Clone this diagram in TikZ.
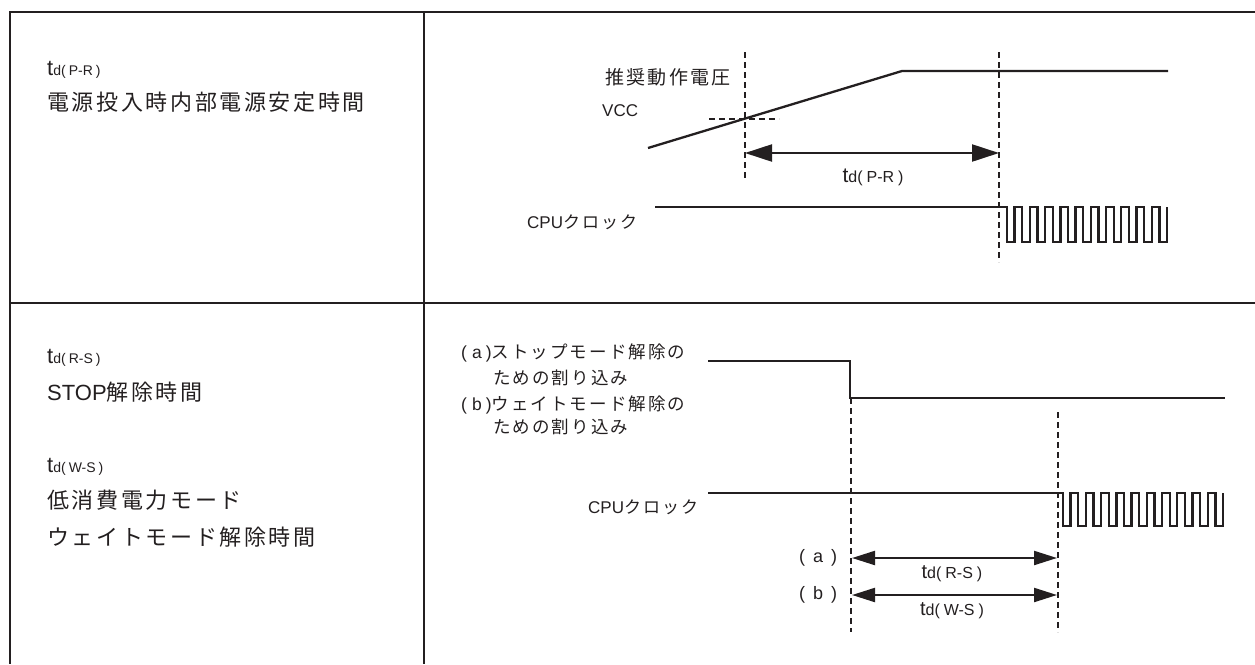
\documentclass[tikz,border=0pt]{standalone}
\usepackage{fontspec}
\setmainfont{Liberation Sans}
\newfontfamily\jp[LetterSpace=12]{Noto Sans CJK JP}
\usetikzlibrary{arrows.meta}
\definecolor{ink}{HTML}{231F20}
\newcommand{\tdlab}[4]{{\fontsize{#1}{#1}\selectfont t}{\fontsize{#2}{#2}\selectfont d(\hspace{#4}#3\hspace{#4})}}
\newcommand{\fs}[1]{\fontsize{#1}{#1}\selectfont}
\begin{document}
\begin{tikzpicture}[x=1pt,y=-1pt,
  frame/.style={line width=2.3pt, draw=ink},
  sig/.style={line width=2.3pt, draw=ink, line join=miter},
  guide/.style={line width=1.3pt, draw=ink, dash pattern=on 6pt off 4pt},
  dimbig/.style={line width=2.2pt, draw=ink, {Triangle[length=27pt,width=17pt]}-{Triangle[length=27pt,width=17pt]}},
  dimsmall/.style={line width=2.2pt, draw=ink, {Triangle[length=23pt,width=14pt]}-{Triangle[length=23pt,width=14pt]}},
  lbl/.style={inner sep=0pt, text=ink},
]
\useasboundingbox (0,0) rectangle (1255,664);
% frame
\draw[frame] (1255,12) -- (10,12) -- (10,664);
\draw[frame] (424,12) -- (424,664);
\draw[frame] (10,303) -- (1255,303);

% left panel texts
\node[lbl,anchor=west] (l1) at (47,70) {\tdlab{22}{14}{P-R}{3pt}};
\node[lbl,anchor=west] (l2) at (47,102) {\fs{22}\jp 電源投入時内部電源安定時間};
\node[lbl,anchor=west] (l3) at (47,358) {\tdlab{22}{14}{R-S}{3pt}};
\node[lbl,anchor=west] (l4) at (47,392) {\fs{22}STOP\jp 解除時間};
\node[lbl,anchor=west] (l5) at (47,467) {\tdlab{22}{14}{W-S}{3pt}};
\node[lbl,anchor=west] (l6) at (47,500) {\fs{22}\jp 低消費電力モード};
\node[lbl,anchor=west] (l7) at (47,537) {\fs{22}\jp ウェイトモード解除時間};

% ---- top right: VCC
\node[lbl,anchor=west] (rec) at (605,77) {\fs{19}\jp 推奨動作電圧};
\node[lbl,anchor=west] (vcc) at (602,111) {\fs{17}VCC};
\coordinate (v0) at (648,148);
\coordinate (v1) at (902,71);
\coordinate (v2) at (1168,71);
\draw[sig] (v0) -- (v1) -- (v2);
\coordinate (g1t) at (745,52);
\coordinate (g1b) at (745,178);
\coordinate (g2t) at (999,52);
\coordinate (g2b) at (999,262);
\draw[guide] (g1t) -- (g1b);
\draw[guide] (g2t) -- (g2b);
\coordinate (hl) at (709,119);
\coordinate (hr) at (779,119);
\draw[guide] (hl) -- (hr);
\coordinate (a1l) at (745,153);
\coordinate (a1r) at (999,153);
\draw[dimbig] (a1l) -- (a1r);
\node[lbl] (tpr) at (873,177) {\tdlab{21}{16}{P-R}{4pt}};
% top clock
\node[lbl,anchor=west] (cpu1) at (527,222) {\fs{17}CPU\jp クロック};
\coordinate (c1s) at (655,207);
\coordinate (c1f) at (1007,207);
\draw[sig] (c1s) -- (c1f) -- ++(0,35)
  \foreach \i in {1,...,10}{ -- ++(7.62,0) -- ++(0,-35) -- ++(7.62,0) -- ++(0,35)}
  -- ++(7.62,0) -- ++(0,-35);

% ---- bottom right
\node[lbl,anchor=west] (ia1) at (461,353) {\fs{17.5}(\hspace{5pt}a\hspace{4pt})\jp ストップモード解除の};
\node[lbl,anchor=west] (ia2) at (493,378) {\fs{17.5}\jp ための割り込み};
\node[lbl,anchor=west] (ib1) at (461,405) {\fs{17.5}(\hspace{5pt}b\hspace{4pt})\jp ウェイトモード解除の};
\node[lbl,anchor=west] (ib2) at (493,427) {\fs{17.5}\jp ための割り込み};
\coordinate (s0) at (708,361);
\coordinate (s1) at (850,361);
\coordinate (s2) at (850,398);
\coordinate (s3) at (1225,398);
\draw[sig] (s0) -- (s1) -- (s2) -- (s3);
\coordinate (g3t) at (851,398);
\coordinate (g3b) at (851,632);
\coordinate (g4t) at (1058,412);
\coordinate (g4b) at (1058,632);
\draw[guide] (g3t) -- (g3b);
\draw[guide] (g4t) -- (g4b);
% bottom clock
\node[lbl,anchor=west] (cpu2) at (588,507) {\fs{17}CPU\jp クロック};
\coordinate (c2s) at (708,493);
\coordinate (c2f) at (1063,493);
\draw[sig] (c2s) -- (c2f) -- ++(0,33)
  \foreach \i in {1,...,10}{ -- ++(7.62,0) -- ++(0,-33) -- ++(7.62,0) -- ++(0,33)}
  -- ++(7.62,0) -- ++(0,-33);
% bottom arrows
\node[lbl,anchor=west] (pa) at (799,558) {\fs{18}(\hspace{8pt}a\hspace{8pt})};
\node[lbl,anchor=west] (pb) at (799,595) {\fs{18}(\hspace{8pt}b\hspace{8pt})};
\coordinate (a2l) at (852,558);
\coordinate (a2r) at (1057,558);
\coordinate (a3l) at (852,595);
\coordinate (a3r) at (1057,595);
\draw[dimsmall] (a2l) -- (a2r);
\draw[dimsmall] (a3l) -- (a3r);
\node[lbl] (trs) at (952,574) {\tdlab{20}{16}{R-S}{4pt}};
\node[lbl] (tws) at (952,611) {\tdlab{20}{16}{W-S}{4pt}};
\end{tikzpicture}
\end{document}
